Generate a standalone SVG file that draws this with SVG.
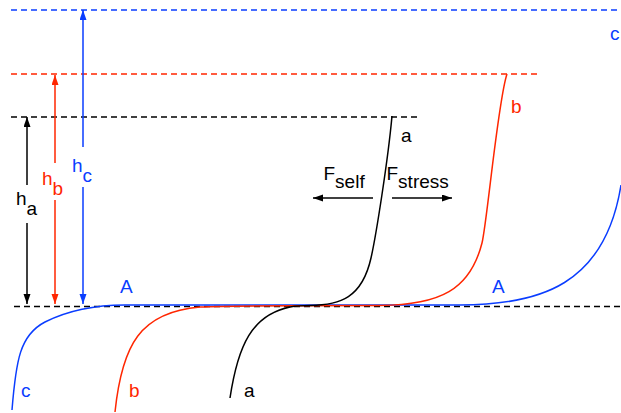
<svg xmlns="http://www.w3.org/2000/svg" width="621" height="413" viewBox="0 0 621 413">
<style>
.t{font-family:"Liberation Sans",Arial,Helvetica,sans-serif;font-size:19px}
.k{fill:#000}.r{fill:#ff2600}.b{fill:#0a3dff}
.d{fill:none;stroke-width:1.3;stroke-dasharray:6 4}
.c{fill:none;stroke-width:1.5}
.ks{stroke:#000}.rs{stroke:#ff2600}.bs{stroke:#0a3dff}
</style>
<defs>
<marker id="mk" markerUnits="userSpaceOnUse" markerWidth="10" markerHeight="8" refX="10" refY="3.5" orient="auto"><path d="M0,0 L10,3.5 L0,7 z" fill="#000"/></marker>
<marker id="mr" markerUnits="userSpaceOnUse" markerWidth="10" markerHeight="8" refX="10" refY="3.5" orient="auto"><path d="M0,0 L10,3.5 L0,7 z" fill="#ff2600"/></marker>
<marker id="mb" markerUnits="userSpaceOnUse" markerWidth="10" markerHeight="8" refX="10" refY="3.5" orient="auto"><path d="M0,0 L10,3.5 L0,7 z" fill="#0a3dff"/></marker>
</defs>
<g id="levels">
<line class="d bs" x1="11" y1="10" x2="621" y2="10"/>
<line class="d rs" x1="11" y1="74" x2="538" y2="74"/>
<line class="d ks" x1="11" y1="117" x2="421" y2="117"/>
<line class="d ks" x1="14" y1="306.5" x2="621" y2="306.5"/>
</g>
<g id="curve-c">
<path class="c bs" d="M12,410 C16,360 20,335 45,322 C65,312 90,305 125,305 L460,305 C540,305 605,285 621,185"/>
<text class="t b" x="610" y="40">c</text>
<text class="t b" x="21" y="397">c</text>
</g>
<g id="curve-b">
<path class="c rs" d="M115,412 C122,345 140,312 200,307 C230,305.5 330,305.5 380,305.5 C440,305 470,290 482,243 C487,223 498,100 507,74"/>
<text class="t r" x="511" y="113">b</text>
<text class="t r" x="129" y="397">b</text>
</g>
<g id="curve-a">
<path class="c ks" d="M230,398 C238,345 252,315 290,307 C298,305.5 305,305.5 310,305.5 C340,305 362,298 371,258 C376,236 388,160 392,116"/>
<text class="t k" x="401" y="142">a</text>
<text class="t k" x="244" y="397">a</text>
</g>
<g id="label-A-left"><text class="t b" x="120" y="293">A</text></g>
<g id="label-A-right"><text class="t b" x="492" y="293">A</text></g>
<g id="label-ha"><text class="t k" x="16" y="205">h<tspan dy="10">a</tspan></text></g>
<g id="label-hb"><text class="t r" x="42" y="185">h<tspan dy="10">b</tspan></text></g>
<g id="label-hc"><text class="t b" x="72" y="172">h<tspan dy="10">c</tspan></text></g>
<g id="label-fself"><text class="t k" x="323.5" y="180">F<tspan dy="8">self</tspan></text></g>
<g id="label-fstress"><text class="t k" x="386.5" y="180">F<tspan dy="8">stress</tspan></text></g>
<g id="connectors" fill="none" stroke-width="1.5">
<line stroke="#000" x1="27" y1="185" x2="27" y2="117" marker-end="url(#mk)"/>
<line stroke="#000" x1="27" y1="223" x2="27" y2="304" marker-end="url(#mk)"/>
<line stroke="#ff2600" x1="55" y1="163" x2="55" y2="75" marker-end="url(#mr)"/>
<line stroke="#ff2600" x1="55" y1="200" x2="55" y2="304" marker-end="url(#mr)"/>
<line stroke="#0a3dff" x1="83" y1="147" x2="83" y2="10" marker-end="url(#mb)"/>
<line stroke="#0a3dff" x1="83" y1="187" x2="83" y2="304" marker-end="url(#mb)"/>
<line stroke="#000" x1="373" y1="198" x2="313" y2="198" marker-end="url(#mk)"/>
<line stroke="#000" x1="392" y1="198" x2="452" y2="198" marker-end="url(#mk)"/>
</g>
</svg>
